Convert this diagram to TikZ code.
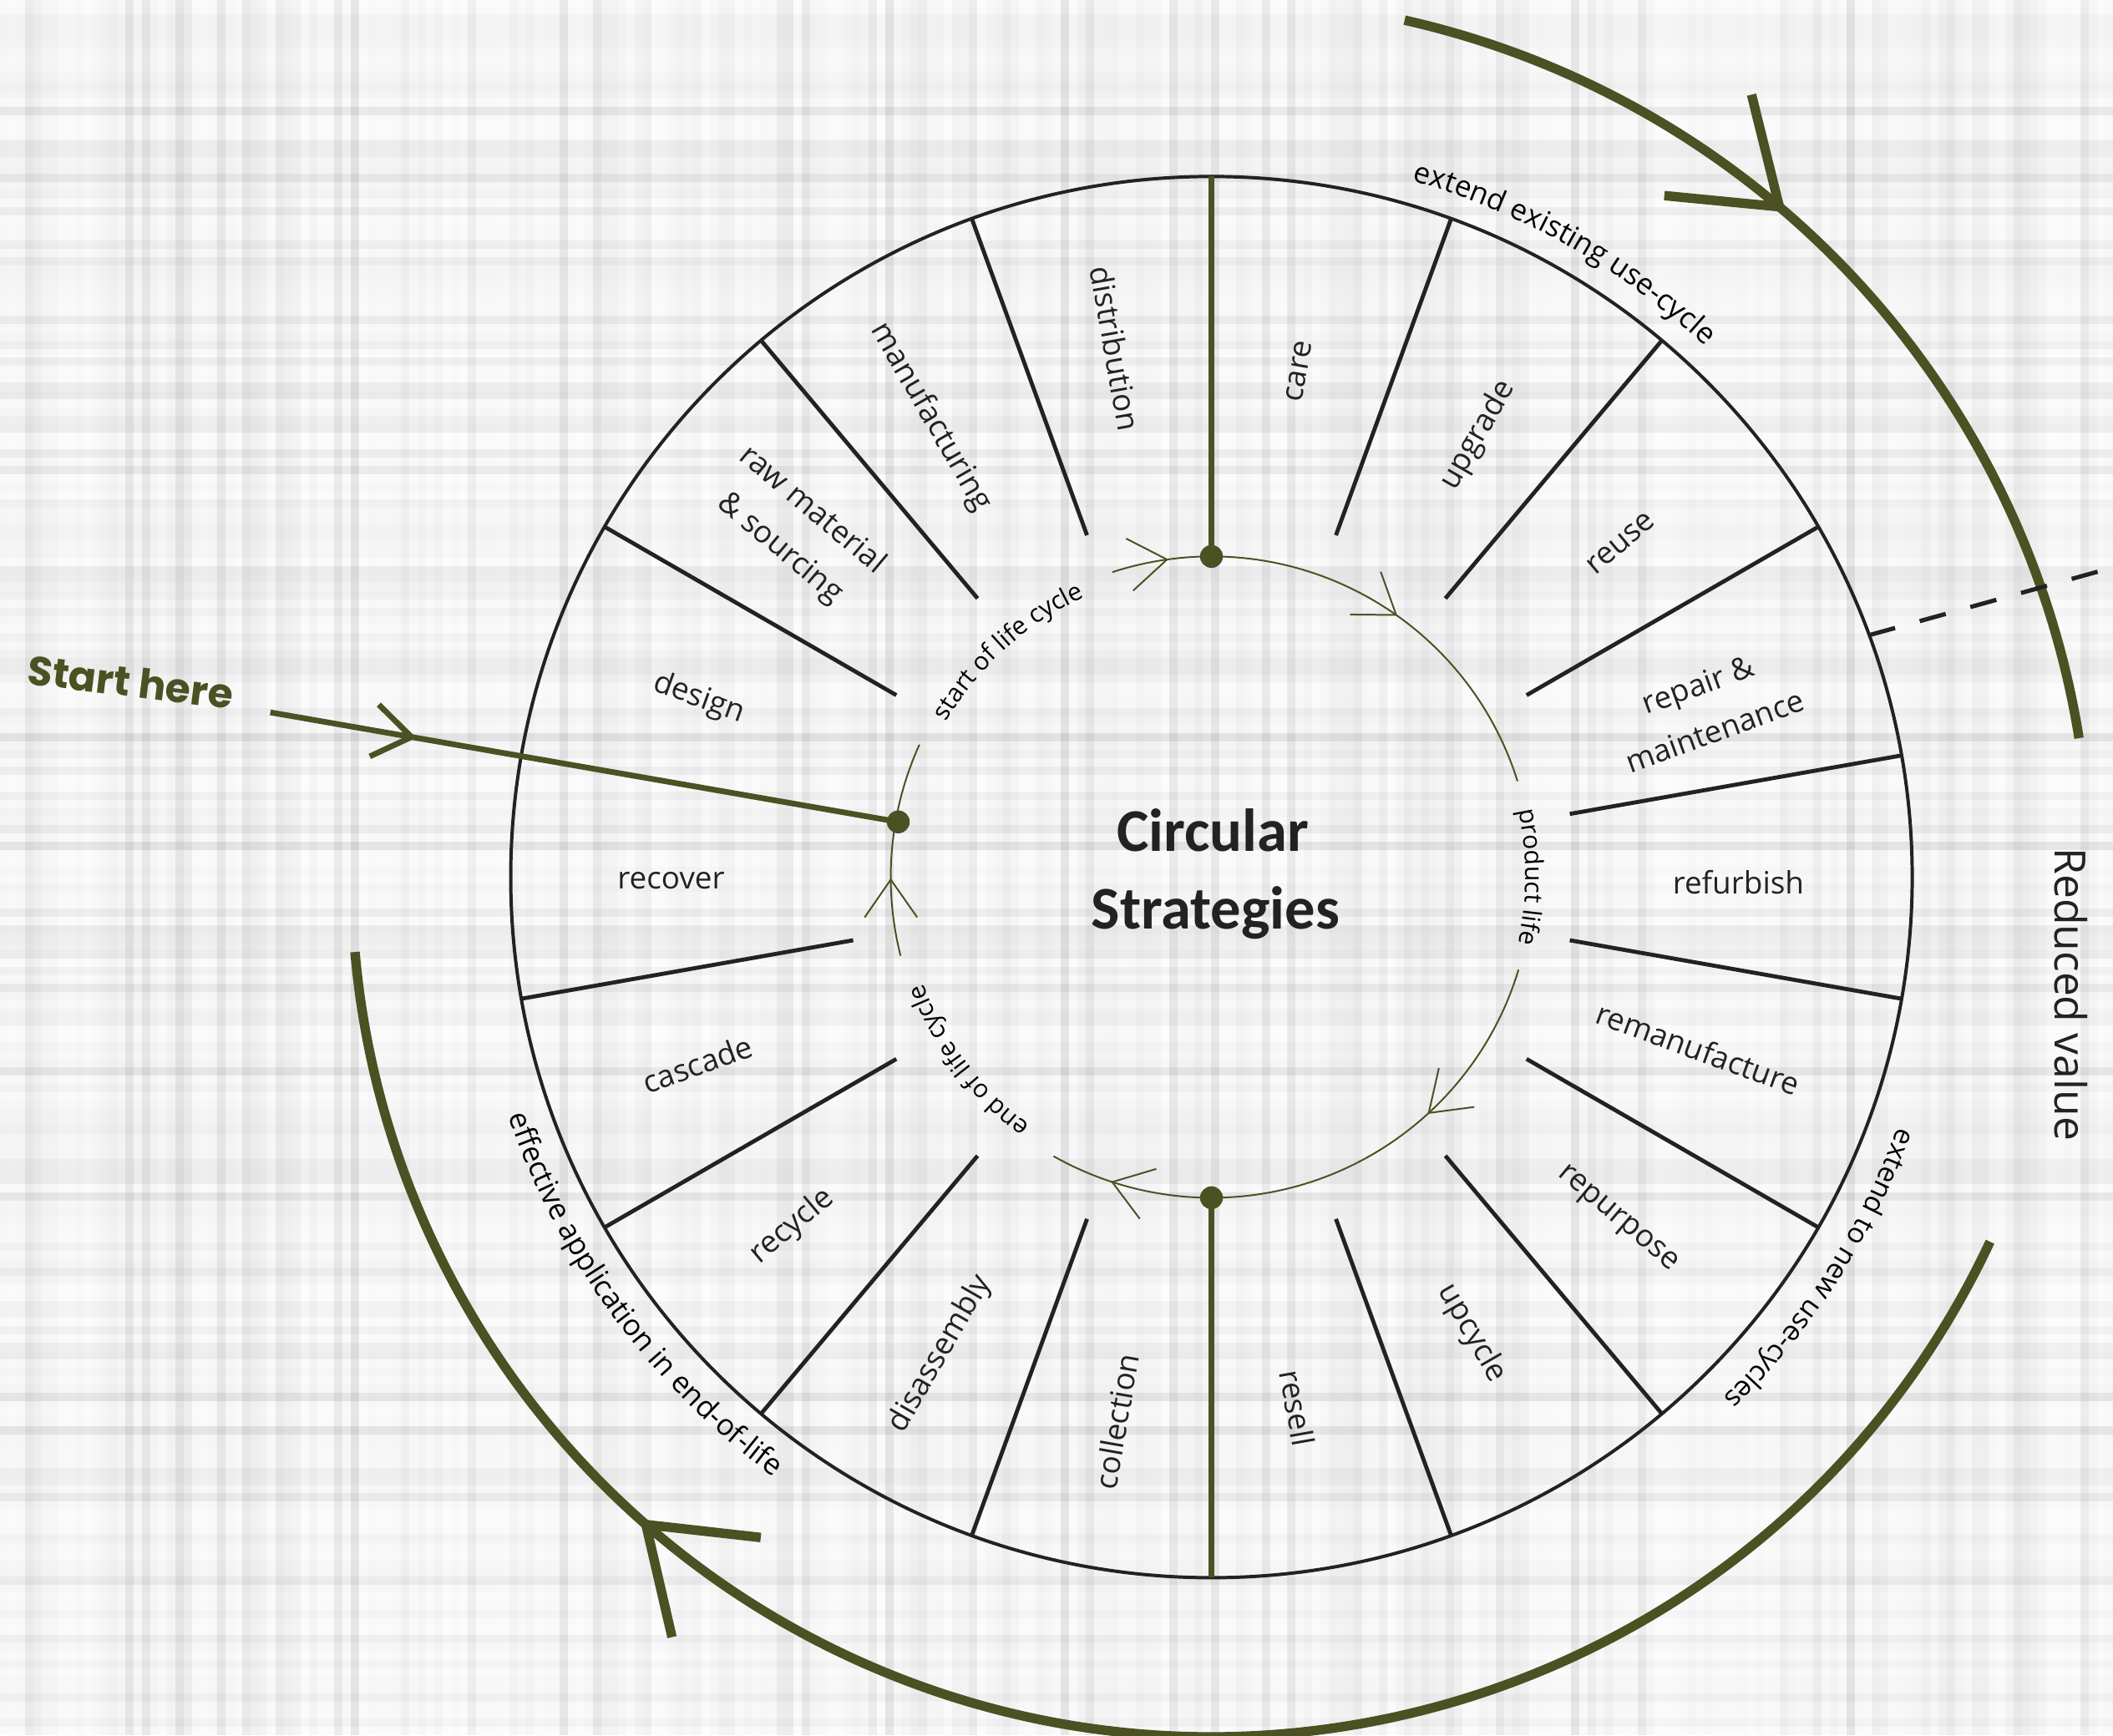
\documentclass[tikz,border=0pt]{standalone}
\usepackage{fontspec}
\setmainfont{Open Sans}
\newfontfamily\titlefam{Carlito}
\newfontfamily\startfam{Poppins}
\usetikzlibrary{arrows.meta,decorations.markings,decorations.text}
\definecolor{leafgreen}{HTML}{4B5123}
\definecolor{inkdark}{HTML}{222222}
\definecolor{paper}{HTML}{FCFCFC}
\newcommand\segfont{\fontsize{6.5}{10.5}\selectfont}
\newcommand\arcfont{\fontsize{6.2}{7.5}\selectfont}
\newcommand\arcsmallfont{\fontsize{5.9}{7.2}\selectfont}
\newcommand\cyclefont{\fontsize{5.3}{6.5}\selectfont}
\tikzset{
    flowtip/.tip={Straight Barb[length=0.28cm,width=0.39cm]},
    bigtip/.tip={Straight Barb[length=0.70cm,width=0.99cm]}}

\begin{document}
\begin{tikzpicture}[
    ringline/.style={inkdark,line width=0.7pt},
    spoke/.style={inkdark,line width=0.85pt},
    greenspoke/.style={leafgreen,line width=1.25pt},
    flowarc/.style={leafgreen,line width=0.35pt},
    bigarc/.style={leafgreen,line width=2pt},
    valueline/.style={inkdark,line width=0.9pt,dash pattern=on 0.2cm off 0.19cm},
    flowmark/.style={postaction={decorate,decoration={markings,
        mark=at position #1 with {\arrow{flowtip}}}}},
    bigmark/.style={postaction={decorate,decoration={markings,
        mark=at position #1 with {\arrow{bigtip}}}}},
    seglabel/.style={inkdark,font=\segfont,align=center,inner sep=0pt}]
    \useasboundingbox (-8.99,-6.37) rectangle (6.69,6.51);

    % Fondo de papel cuadriculado.
    \fill[paper] (-8.99,-6.37) rectangle (6.69,6.51);
    \pgfmathsetseed{7}
    \foreach \i in {0,...,252}{
        \pgfmathsetmacro\shade{0.1*rnd*rnd}
        \fill[black,opacity=\shade] (-8.99+\i*0.062,-6.37) rectangle ++(0.062,12.88);
    }
    \foreach \j in {0,...,207}{
        \pgfmathsetmacro\shade{0.1*rnd*rnd}
        \fill[black,opacity=\shade] (-8.99,-6.37+\j*0.062) rectangle ++(15.68,0.062);
    }

    % Puntos del ciclo interior.
    \coordinate (topdot) at (90:2.38);
    \coordinate (bottomdot) at (270:2.38);
    \coordinate (startdot) at (170:2.36);
    \coordinate (startfar) at (170.07:7.09);

    % Anillo exterior y radios.
    \draw[ringline] (0,0) circle (5.2);
    \foreach \a in {10,30,50,70,110,130,150,190,210,230,250,290,310,330,350}
        \draw[spoke] (\a:2.7) -- (\a:5.2);
    \draw[greenspoke] (topdot) -- (90:5.2);
    \draw[greenspoke] (bottomdot) -- (270:5.2);

    % Ciclo interior con flechas.
    \draw[flowarc,flowmark=0.572] (108:2.38) arc[start angle=108,end angle=90,radius=2.38];
    \draw[flowarc,flowmark=0.488] (topdot) arc[start angle=90,end angle=17.4,radius=2.38];
    \draw[flowarc,flowmark=0.421] (-16.8:2.38) arc[start angle=-16.8,end angle=-90,radius=2.38];
    \draw[flowarc,flowmark=0.62] (bottomdot) arc[start angle=270,end angle=240.5,radius=2.38];
    \draw[flowarc,flowmark=0.363] (194.2:2.38) arc[start angle=194.2,end angle=155.6,radius=2.38];

    % Entrada al ciclo.
    \draw[leafgreen,line width=1.2pt,flowmark=1.1cm] (startfar) -- (startdot);
    \foreach \p in {topdot,bottomdot,startdot}
        \fill[leafgreen] (\p) circle (0.085);
    \node[leafgreen,font=\startfam\bfseries\fontsize{8.6}{10}\selectfont,rotate=-7]
        (starttext) at (-8.02,1.45) {Start here};

    % Textos del ciclo interior.
    \path[decorate,decoration={text along path,text align=center,
        text={|\cyclefont|start of life cycle}}]
        (152:2.28) arc[start angle=152,end angle=112,radius=2.28];
    \path[decorate,decoration={text along path,text align=center,
        text={|\cyclefont|product life}}]
        (15:2.33) arc[start angle=15,end angle=-15,radius=2.33];
    \path[decorate,decoration={text along path,text align=center,
        text={|\cyclefont|end of life cycle}}]
        (236:2.28) arc[start angle=236,end angle=198,radius=2.28];

    % Estrategias del anillo.
    \foreach \nm/\ang/\rad/\rot/\txt in {
        care/80.2/3.81/80/care,
        upgrade/58.9/3.83/60/upgrade,
        reuse/39.2/3.92/40/reuse,
        repair/18.9/3.88/20/{repair \&\\maintenance},
        refurbish/-0.6/3.91/0/refurbish,
        remanufacture/-19.4/3.83/-20/remanufacture,
        repurpose/-40.2/3.94/-40/repurpose,
        upcycle/-60.3/3.90/-60/upcycle,
        resell/-80.8/3.99/-80/resell,
        collection/260.1/4.10/80/collection,
        disassembly/240.4/4.07/60/disassembly,
        recycle/219.8/4.05/40/recycle,
        cascade/200/4.06/20/cascade,
        recover/180.4/4.01/0/recover,
        design/160.8/4.03/-20/design,
        raw/140.1/4.02/-40/{raw material\\\& sourcing},
        manufacturing/121.4/4.00/-60/manufacturing,
        distribution/100.3/3.99/-80/distribution}
        \node[seglabel,rotate=\rot] (\nm) at (\ang:\rad) {\txt};

    % Titulo central.
    \node[inkdark,font=\titlefam\bfseries\fontsize{12.8}{15}\selectfont,anchor=base]
        (titleA) at (0.01,0.194) {Circular};
    \node[inkdark,font=\titlefam\bfseries\fontsize{12.8}{15}\selectfont,anchor=base]
        (titleB) at (0.03,-0.386) {Strategies};

    % Arcos exteriores de valor.
    \draw[bigarc,bigmark=0.412] (77.3:6.52) arc[start angle=77.3,end angle=9.1,radius=6.52];
    \draw[bigarc,bigmark=0.711] (334.9:6.38) arc[start angle=334.9,end angle=185,radius=6.38];
    \coordinate (dashstart) at (20.2:5.2);
    \coordinate (dashend) at (6.75,2.315);
    \draw[valueline] (dashstart) -- (dashend);
    \node[inkdark,font=\fontsize{9.1}{11}\selectfont,rotate=-90]
        (valuetext) at (6.38,-0.87) {Reduced value};

    % Textos sobre el anillo.
    \path[decorate,decoration={text along path,text align=center,
        text={|\arcfont|extend existing use-cycle}}]
        (78:5.38) arc[start angle=78,end angle=43,radius=5.38];
    \path[decorate,decoration={text along path,text align=center,
        text={|\arcsmallfont|extend to new use-cycles}}]
        (-15:5.42) arc[start angle=-15,end angle=-50.5,radius=5.42];
    \path[decorate,decoration={text along path,text align=center,
        text={|\arcfont|effective application in end-of-life}}]
        (196:5.51) arc[start angle=196,end angle=236.7,radius=5.51];
\end{tikzpicture}
\end{document}
